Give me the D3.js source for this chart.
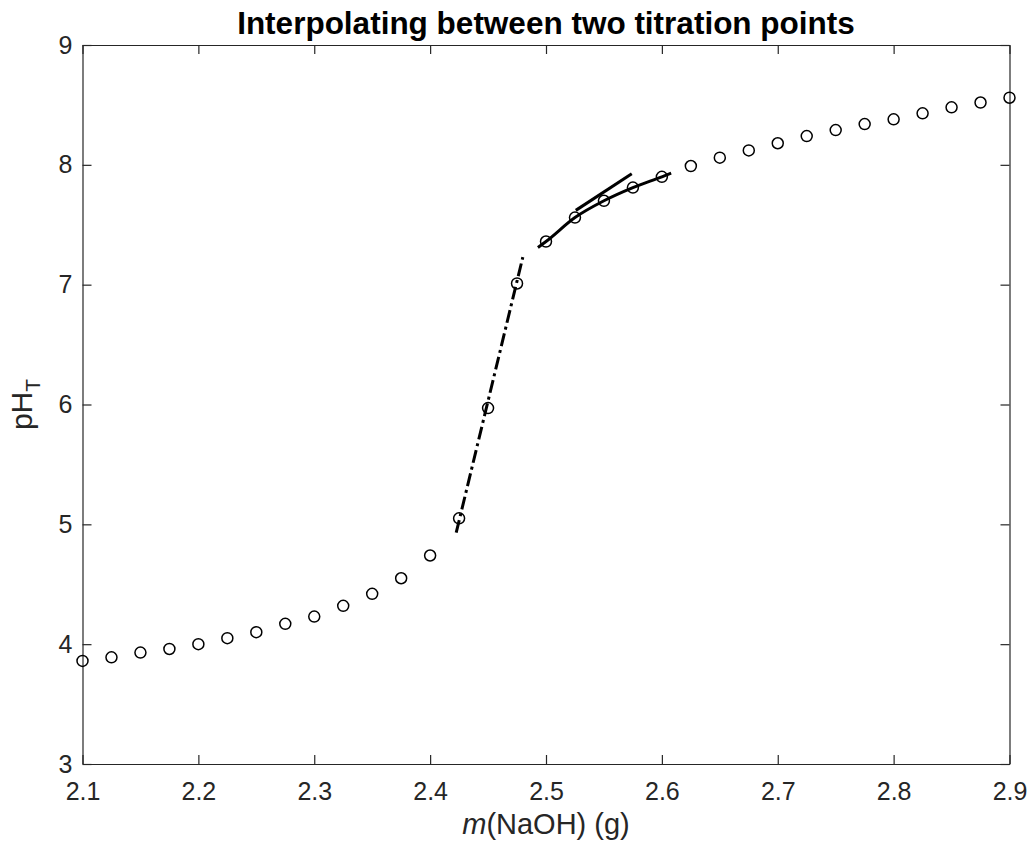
<!DOCTYPE html>
<html>
<head>
<meta charset="utf-8">
<script src="https://cdn.jsdelivr.net/npm/d3@7"></script>
<style>
  html, body { margin: 0; padding: 0; background: #fff; }
  svg { display: block; font-family: "Liberation Sans", Arial, Helvetica, sans-serif; }
</style>
</head>
<body>
<svg id="chart" width="1031" height="846"></svg>
<script>
// ---- data ----
const massNaOH = [2.1, 2.125, 2.15, 2.175, 2.2, 2.225, 2.25, 2.275, 2.3, 2.325, 2.35, 2.375, 2.4, 2.425, 2.45, 2.475, 2.5, 2.525, 2.55, 2.575, 2.6, 2.625, 2.65, 2.675, 2.7, 2.725, 2.75, 2.775, 2.8, 2.825, 2.85, 2.875, 2.9];
const pHT = [3.86, 3.89, 3.93, 3.96, 4.00, 4.05, 4.10, 4.17, 4.23, 4.32, 4.42, 4.55, 4.74, 5.05, 5.97, 7.01, 7.36, 7.56, 7.70, 7.81, 7.90, 7.99, 8.06, 8.12, 8.18, 8.24, 8.29, 8.34, 8.38, 8.43, 8.48, 8.52, 8.56];
// dash-dot interpolation through the steep region
const steepX = [2.4225, 2.48];
const steepY = [4.93, 7.23];
// solid curve through the upper points
const curveX = [2.493, 2.5, 2.525, 2.55, 2.575, 2.6, 2.608];
const curveY = [7.31, 7.36, 7.56, 7.70, 7.81, 7.90, 7.93];
// tangent line at 2.55
const tangentX = [2.5257, 2.574];
const tangentY = [7.62, 7.925];
const xTicks = [2.1, 2.2, 2.3, 2.4, 2.5, 2.6, 2.7, 2.8, 2.9];
const yTicks = [3, 4, 5, 6, 7, 8, 9];

// ---- layout ----
const mLeft = 82.5, mRight = 1009.5, mTop = 45, mBottom = 764;
const svg = d3.select("#chart");
const x = d3.scaleLinear().domain([2.1, 2.9]).range([mLeft, mRight]);
const y = d3.scaleLinear().domain([3, 9]).range([mBottom, mTop]);
const axisColor = "#262626";
const tickLen = 9;

// axes (box with inward ticks)
const gB = svg.append("g").attr("transform", `translate(0,${mBottom})`)
  .call(d3.axisBottom(x).tickValues(xTicks).tickSizeInner(-tickLen).tickSizeOuter(0).tickPadding(18).tickFormat(d3.format(".1f")));
const gT = svg.append("g").attr("transform", `translate(0,${mTop})`)
  .call(d3.axisTop(x).tickValues(xTicks).tickSizeInner(-tickLen).tickSizeOuter(0).tickFormat(""));
const gL = svg.append("g").attr("transform", `translate(${mLeft},0)`)
  .call(d3.axisLeft(y).tickValues(yTicks).tickSizeInner(-tickLen).tickSizeOuter(0).tickPadding(10).tickFormat(d3.format("d")));
const gR = svg.append("g").attr("transform", `translate(${mRight},0)`)
  .call(d3.axisRight(y).tickValues(yTicks).tickSizeInner(-tickLen).tickSizeOuter(0).tickFormat(""));
[gB, gT, gL, gR].forEach(g => {
  g.selectAll("path.domain").attr("stroke", axisColor).attr("stroke-width", 1.2);
  g.selectAll(".tick line").attr("stroke", axisColor).attr("stroke-width", 1.2);
  g.selectAll(".tick text").attr("fill", axisColor).attr("font-size", 25)
    .attr("font-family", "'Liberation Sans', Arial, sans-serif");
});
gB.selectAll(".tick text").attr("dy", "0.71em");

// lines
const line = d3.line().x(d => x(d[0])).y(d => y(d[1]));
svg.append("path")
  .datum(steepX.map((v, i) => [v, steepY[i]]))
  .attr("d", line).attr("fill", "none").attr("stroke", "#000")
  .attr("stroke-width", 3).attr("stroke-dasharray", "13,4,3,4");
svg.append("path")
  .datum(curveX.map((v, i) => [v, curveY[i]]))
  .attr("d", d3.line().x(d => x(d[0])).y(d => y(d[1])).curve(d3.curveMonotoneX))
  .attr("fill", "none").attr("stroke", "#000").attr("stroke-width", 3);
svg.append("path")
  .datum(tangentX.map((v, i) => [v, tangentY[i]]))
  .attr("d", line).attr("fill", "none").attr("stroke", "#000")
  .attr("stroke-width", 3);

// markers
svg.append("g").selectAll("circle")
  .data(massNaOH.map((v, i) => [v, pHT[i]]))
  .join("circle")
  .attr("cx", d => x(d[0])).attr("cy", d => y(d[1])).attr("r", 5.5)
  .attr("fill", "none").attr("stroke", "#000").attr("stroke-width", 1.5);

// title
svg.append("text").attr("x", 546).attr("y", 34)
  .attr("text-anchor", "middle").attr("font-size", 31.5).attr("font-weight", "bold").attr("fill", "#000")
  .text("Interpolating between two titration points");

// x label
const xl = svg.append("text").attr("x", 546).attr("y", 834)
  .attr("text-anchor", "middle").attr("font-size", 29).attr("fill", axisColor);
xl.append("tspan").attr("font-style", "italic").text("m");
xl.append("tspan").text("(NaOH) (g)");

// y label
const yl = svg.append("text").attr("transform", `translate(32,${(mTop + mBottom) / 2}) rotate(-90)`)
  .attr("text-anchor", "middle").attr("font-size", 30).attr("fill", axisColor);
yl.append("tspan").text("pH");
yl.append("tspan").attr("font-size", 21).attr("dy", 8).text("T");
</script>
</body>
</html>
